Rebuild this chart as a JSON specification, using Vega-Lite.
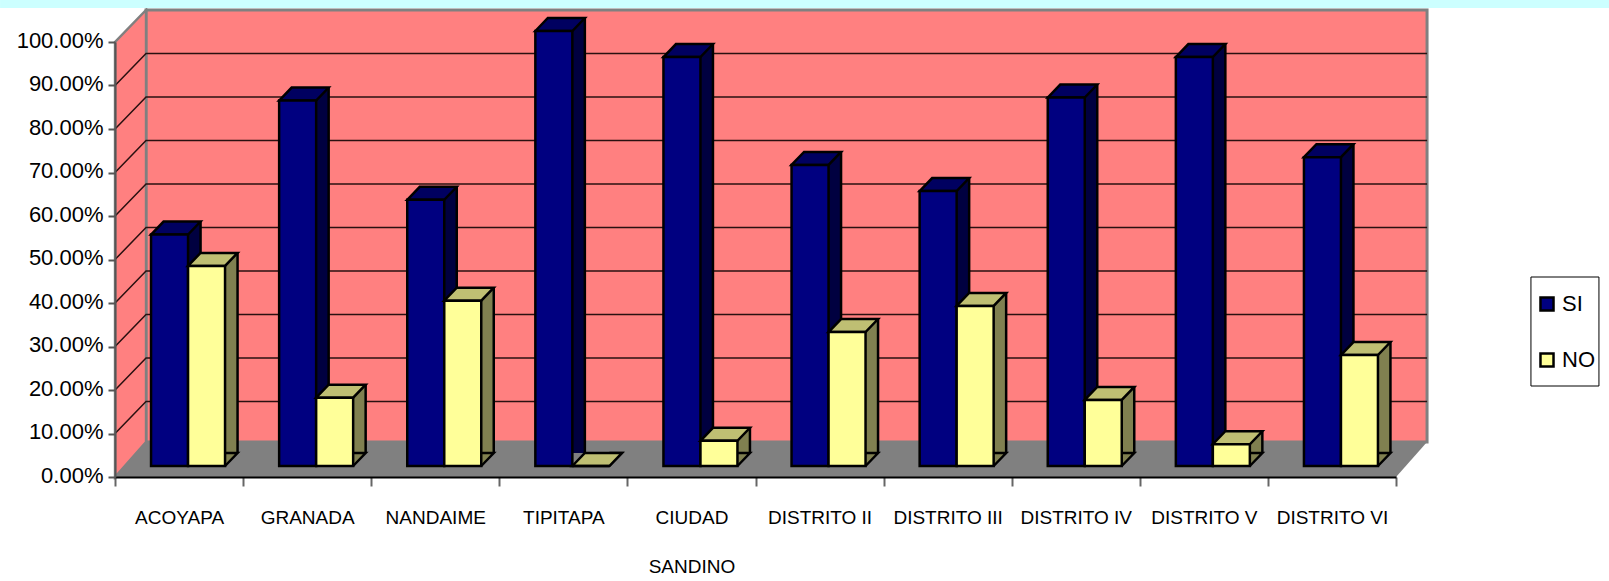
{
"$schema":"https://vega.github.io/schema/vega-lite/v6.json",
"width":1281,"height":435,
"autosize":{"type":"none"},
"padding":{"left":115,"top":42,"right":213,"bottom":104},
"background":"white",
"datasets":{
"rows":[
{"cat":"ACOYAPA","serie":"SI","value":0.532},{"cat":"ACOYAPA","serie":"NO","value":0.46},
{"cat":"GRANADA","serie":"SI","value":0.84},{"cat":"GRANADA","serie":"NO","value":0.157},
{"cat":"NANDAIME","serie":"SI","value":0.612},{"cat":"NANDAIME","serie":"NO","value":0.38},
{"cat":"TIPITAPA","serie":"SI","value":1.0},{"cat":"TIPITAPA","serie":"NO","value":0.0},
{"cat":"CIUDAD SANDINO","serie":"SI","value":0.94},{"cat":"CIUDAD SANDINO","serie":"NO","value":0.058},
{"cat":"DISTRITO II","serie":"SI","value":0.692},{"cat":"DISTRITO II","serie":"NO","value":0.308},
{"cat":"DISTRITO III","serie":"SI","value":0.632},{"cat":"DISTRITO III","serie":"NO","value":0.368},
{"cat":"DISTRITO IV","serie":"SI","value":0.847},{"cat":"DISTRITO IV","serie":"NO","value":0.152},
{"cat":"DISTRITO V","serie":"SI","value":0.94},{"cat":"DISTRITO V","serie":"NO","value":0.05},
{"cat":"DISTRITO VI","serie":"SI","value":0.71},{"cat":"DISTRITO VI","serie":"NO","value":0.255}
],
"ticks":[{"tick":0.1},{"tick":0.2},{"tick":0.3},{"tick":0.4},{"tick":0.5},{"tick":0.6},{"tick":0.7},{"tick":0.8},{"tick":0.9}]
},
"data":{"name":"rows"},
"encoding":{
"x":{"field":"cat","type":"nominal","sort":null,"title":null,
 "scale":{"domain":["ACOYAPA","GRANADA","NANDAIME","TIPITAPA","CIUDAD SANDINO","DISTRITO II","DISTRITO III","DISTRITO IV","DISTRITO V","DISTRITO VI"],"paddingInner":0,"paddingOuter":0},
 "axis":{"tickBand":"extent","labelAngle":0,"labelFont":"Liberation Sans","labelFontSize":19,"labelColor":"#000000","labelPadding":22,"labelLineHeight":49,"tickColor":"#666666","tickSize":9,"tickWidth":2,"domainColor":"#000000","domainWidth":2,"zindex":1,"labelExpr":"datum.label=='CIUDAD SANDINO'?['CIUDAD','SANDINO']:datum.label"}},
"y":{"field":"value","type":"quantitative","title":null,
 "scale":{"domain":[0,1]},
 "axis":{"values":[0,0.1,0.2,0.3,0.4,0.5,0.6,0.7,0.8,0.9,1],"format":".2%","grid":false,"labelFont":"Liberation Sans","labelFontSize":22,"labelColor":"#000000","labelPadding":5,"labelOffset":-2,"tickColor":"#555555","tickSize":7,"tickWidth":2,"domainColor":"#555555","domainWidth":2,"zindex":1}}
},
"layer":[
{"transform":[{"filter":"datum.cat=='ACOYAPA' && datum.serie=='SI'"}],"mark":{"type":"point","shape":"M-33,-35 L1248,-35 L1248,-467 L-33,-467 Z","size":4,"filled":true,"fill":"#FF8080","stroke":"#808080","strokeWidth":3,"opacity":1},"encoding":{"y":{"datum":0}}},
{"transform":[{"filter":"datum.cat=='ACOYAPA' && datum.serie=='SI'"}],"mark":{"type":"point","shape":"M-64,0 L-64,-435 L-33,-467 L-33,-35 Z","size":4,"filled":true,"fill":"#FF8080","stroke":"#808080","strokeWidth":2.5,"opacity":1},"encoding":{"y":{"datum":0}}},
{"data":{"name":"ticks"},"mark":{"type":"point","shape":"M-64,0 L-33,-32 L1248,-32","size":4,"filled":false,"stroke":"#2a1010","strokeWidth":1.5,"opacity":1},"encoding":{"x":{"datum":"ACOYAPA"},"y":{"field":"tick","type":"quantitative"}}},
{"transform":[{"filter":"datum.cat=='ACOYAPA' && datum.serie=='SI'"}],"mark":{"type":"point","shape":"M-64,0 L1217,0 L1248,-35 L-33,-35 Z","size":4,"filled":true,"fill":"#808080","opacity":1},"encoding":{"y":{"datum":0}}},

{"transform":[{"filter":"datum.serie=='SI'"}],"mark":{"type":"bar","size":13,"fill":"#000040","xOffset":15.5,"yOffset":-24,"y2Offset":-24},"encoding":{"y2":{"datum":0}}},
{"transform":[{"filter":"datum.serie=='SI'"}],"mark":{"type":"rule","stroke":"#000000","strokeWidth":2.5,"xOffset":21.5,"yOffset":-24,"y2Offset":-24},"encoding":{"y2":{"datum":0}}},
{"transform":[{"filter":"datum.serie=='SI'"}],"mark":{"type":"point","shape":"M-18.5,0 L-6,-13 L31,-13 L18.5,0 Z","size":4,"filled":true,"fill":"#000060","stroke":"#000000","strokeWidth":2.5,"opacity":1,"xOffset":-9.5,"yOffset":-11}},
{"transform":[{"filter":"datum.serie=='SI'"}],"mark":{"type":"bar","size":37,"stroke":"#000000","strokeWidth":2.5,"xOffset":-9.5,"yOffset":-11,"y2Offset":-11},"encoding":{"y2":{"datum":0},"color":{"field":"serie","type":"nominal","scale":{"domain":["SI","NO"],"range":["#000080","#FFFF99"]},"legend":{"title":null,"orient":"none","legendX":1421,"legendY":251,"symbolType":"square","symbolSize":170,"symbolStrokeColor":"#000000","symbolStrokeWidth":2.5,"symbolOpacity":1,"labelFont":"Liberation Sans","labelFontSize":22,"labelColor":"#000000","padding":0,"rowPadding":32,"labelOffset":4}}}},

{"transform":[{"filter":"datum.serie=='NO'"}],"mark":{"type":"bar","size":13,"fill":"#808050","xOffset":52.5,"yOffset":-24,"y2Offset":-24},"encoding":{"y2":{"datum":0}}},
{"transform":[{"filter":"datum.serie=='NO'"}],"mark":{"type":"point","shape":"M18.5,0 L31,-13 L18.5,-13","size":4,"filled":true,"fill":"#808050","stroke":"#000000","strokeWidth":2.5,"opacity":1,"xOffset":27.5,"yOffset":-11},"encoding":{"y":{"datum":0}}},
{"transform":[{"filter":"datum.serie=='NO'"}],"mark":{"type":"rule","stroke":"#000000","strokeWidth":2.5,"xOffset":58.5,"yOffset":-24,"y2Offset":-24},"encoding":{"y2":{"datum":0}}},
{"transform":[{"filter":"datum.serie=='NO'"}],"mark":{"type":"point","shape":"M-18.5,0 L-6,-13 L31,-13 L18.5,0 Z","size":4,"filled":true,"fill":"#BFBF73","stroke":"#000000","strokeWidth":2.5,"opacity":1,"xOffset":27.5,"yOffset":-11}},
{"transform":[{"filter":"datum.serie=='NO'"}],"mark":{"type":"bar","size":37,"stroke":"#000000","strokeWidth":2.5,"xOffset":27.5,"yOffset":-11,"y2Offset":-11},"encoding":{"y2":{"datum":0},"color":{"field":"serie","type":"nominal"}}},

{"transform":[{"filter":"datum.cat=='ACOYAPA' && datum.serie=='SI'"}],"mark":{"type":"point","shape":"M-179,-42 L1430,-42 L1430,-34 L-179,-34 Z","size":4,"filled":true,"fill":"#CCFFFF","opacity":1},"encoding":{"y":{"datum":1}}},
{"transform":[{"filter":"datum.cat=='DISTRITO VI' && datum.serie=='SI'"}],"mark":{"type":"point","shape":"M199,235 L267,235 L267,344 L199,344 Z","size":4,"filled":false,"stroke":"#000000","strokeWidth":1,"opacity":1},"encoding":{"y":{"datum":1}}}
]
}
